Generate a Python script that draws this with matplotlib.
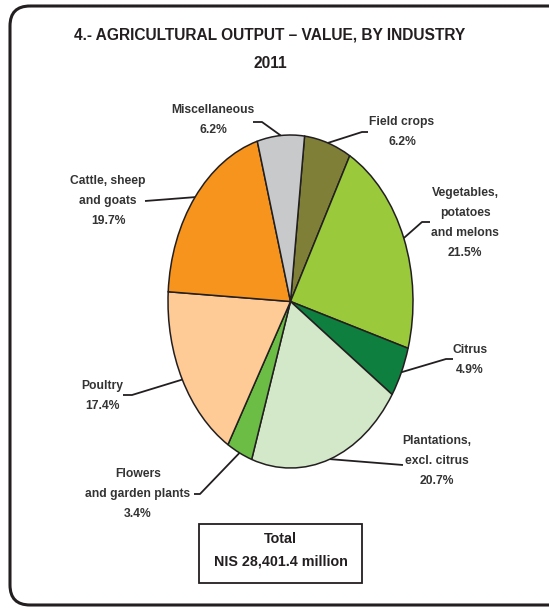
import numpy as np
import matplotlib
matplotlib.use("Agg")
import matplotlib.pyplot as plt
from matplotlib.patches import FancyBboxPatch, Rectangle

# datos del grafico (sentido horario desde arriba)
sectores = ["Field crops", "Vegetables,\npotatoes\nand melons", "Citrus",
            "Plantations,\nexcl. citrus", "Flowers\nand garden plants",
            "Poultry", "Cattle, sheep\nand goats", "Miscellaneous"]
porcentajes = [6.2, 21.5, 4.9, 20.7, 3.4, 17.4, 19.7, 6.2]
colores = ["#7f7f37", "#9aca3c", "#0e7f3e", "#d3e8c8", "#6bbd45",
           "#fecb97", "#f7941d", "#c8c9cb"]
titulo = "4.- AGRICULTURAL OUTPUT \u2013 VALUE, BY INDUSTRY\n2011"
total_txt = "Total\nNIS 28,401.4 million"

W, H = 549, 608
fuente = ["Liberation Sans", "DejaVu Sans"]
negro = "#231f20"

fig = plt.figure(figsize=(W / 100, H / 100), dpi=100)

# geometria de la torta en pixeles
cx, cy, rx, ry = 290.5, 301.5, 122.5, 166.5
inicio = 83.4

axp = fig.add_axes([(cx - rx) / W, (H - cy - ry) / H, 2 * rx / W, 2 * ry / H])
cunas, _ = axp.pie(porcentajes, colors=colores, startangle=inicio, counterclock=False,
                   wedgeprops=dict(edgecolor=negro, linewidth=1.1))
axp.set_aspect("auto")
axp.set_xlim(-1, 1)
axp.set_ylim(-1, 1)
axp.axis("off")

# capa en pixeles para textos y lineas
ax = fig.add_axes([0, 0, 1, 1], zorder=3)
ax.set_xlim(0, W)
ax.set_ylim(H, 0)
ax.axis("off")
ax.patch.set_alpha(0)

marco = FancyBboxPatch((10, 6), 560, 599, boxstyle="round,pad=0,rounding_size=20",
                       facecolor="none", edgecolor=negro, linewidth=2.2, clip_on=False)
ax.add_patch(marco)

ax.text(270, 49, titulo, ha="center", va="center", fontsize=11.2, fontweight="bold",
        family=fuente, color=negro, linespacing=2.15)

# posiciones de etiquetas y codos de las lineas guia
etq_pos = [(402, 132), (465, 223), (470, 360), (437, 461), (138, 494),
           (102, 396), (108, 201), (213, 120)]
codos = [[(368, 132), (362, 132)], [(430, 222), (422, 222)], [(453, 359), (446, 359)],
         [(403, 465)], [(194, 494), (200, 494)], [(123, 395), (132, 395)],
         [(145, 201)], [(253, 122), (262, 122)]]

acum = 0.0
for nombre, p, pos, codo in zip(sectores, porcentajes, etq_pos, codos):
    ang = np.deg2rad(inicio - 3.6 * (acum + p / 2))
    acum += p
    px = cx + rx * np.cos(ang)
    py = cy - ry * np.sin(ang)
    xs = [c[0] for c in codo] + [px]
    ys = [c[1] for c in codo] + [py]
    ax.plot(xs, ys, color=negro, linewidth=1.3, solid_capstyle="butt")
    ax.text(pos[0], pos[1], f"{nombre}\n{p}%", ha="center", va="center", fontsize=8.7,
            fontweight="bold", family=fuente, color="#333333", linespacing=1.9)

ax.add_patch(Rectangle((199, 524), 163, 59, facecolor="white", edgecolor=negro, linewidth=1.3))
ax.text(280.5, 550, total_txt, ha="center", va="center", fontsize=10.3, fontweight="bold",
        family=fuente, color=negro, linespacing=1.75)

fig.savefig("out.png", dpi=100)
